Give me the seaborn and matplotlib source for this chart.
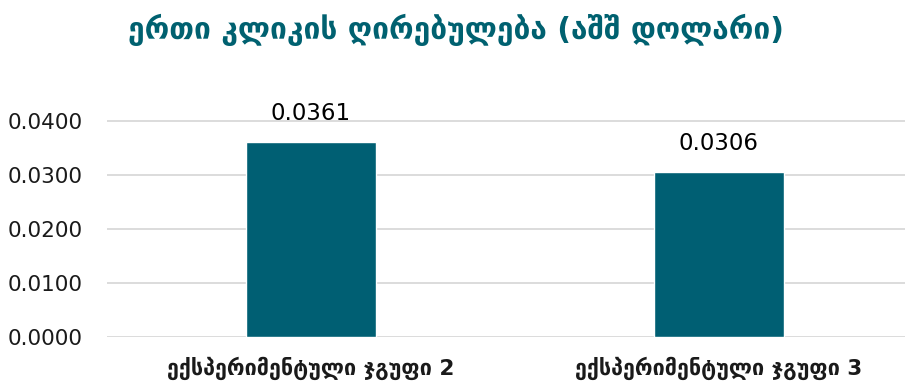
import matplotlib
matplotlib.use("Agg")
import matplotlib.pyplot as plt
import seaborn as sns
import pandas as pd

groups = ["ექსპერიმენტული ჯგუფი 2", "ექსპერიმენტული ჯგუფი 3"]
cost_per_click = [0.0361, 0.0306]
yticks = [0.0, 0.01, 0.02, 0.03, 0.04]
title = "ერთი კლიკის ღირებულება (აშშ დოლარი)"

sns.set_theme(style="white")
plt.rcParams["font.family"] = ["DejaVu Sans"]

df = pd.DataFrame({"group": groups, "cpc": cost_per_click})

fig = plt.figure(figsize=(9.12, 3.81), dpi=100)
ax = fig.add_axes([107 / 912, 1 - 337 / 381, (905 - 107) / 912, (337 - 94) / 381])

for y in yticks:
    ax.axhline(y, color="#d9d9d9", linewidth=1.3, zorder=0)

sns.barplot(data=df, x="group", y="cpc", color="#005f73", width=0.32,
            saturation=1, ax=ax, zorder=2)

for i, v in enumerate(cost_per_click):
    ax.annotate(f"{v:.4f}", (i, v), xytext=(0, 12), textcoords="offset points",
                ha="center", va="bottom", fontsize=16.5, color="black")

ax.set_xlim(-0.5, 1.456)
ax.set_ylim(0, 0.045)
ax.set_yticks(yticks)
ax.set_yticklabels([f"{y:.4f}" for y in yticks], fontsize=15.5, color="#1a1a1a")
ax.tick_params(axis="y", pad=17.5, length=0)
ax.tick_params(axis="x", length=0, pad=14)
for lab in ax.get_xticklabels():
    lab.set_fontsize(15.5)
    lab.set_fontweight("bold")
    lab.set_color("#1a1a1a")
ax.set_xlabel("")
ax.set_ylabel("")
for s in ax.spines.values():
    s.set_visible(False)

fig.text(0.5, 1 - 30 / 381, title, ha="center", va="center",
         fontsize=21.5, fontweight="bold", color="#006170")

fig.savefig("out.png", dpi=100)
